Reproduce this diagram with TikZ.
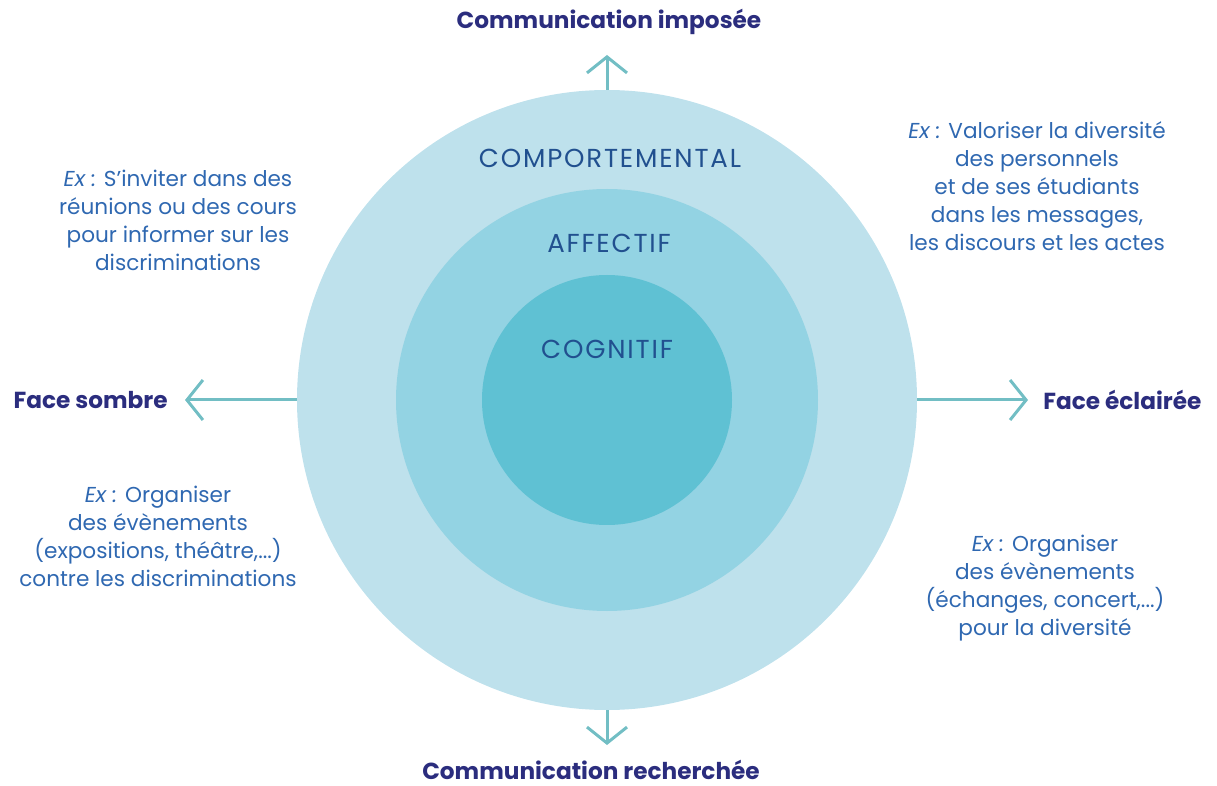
\documentclass[tikz,border=0pt]{standalone}
\usepackage{fontspec}
\setmainfont{Poppins}
\usetikzlibrary{arrows.meta}

\definecolor{navy}{HTML}{2B2D7E}
\definecolor{txtblue}{HTML}{2F68B1}
\definecolor{ringtext}{HTML}{21508F}
\definecolor{axeteal}{HTML}{72BEC4}
\definecolor{ringout}{HTML}{BEE1EC}
\definecolor{ringmid}{HTML}{93D3E3}
\definecolor{ringin}{HTML}{5FC1D3}

\begin{document}
\begin{tikzpicture}[x=0.5pt,y=-0.5pt,
	disc/.style={circle, inner sep=0pt, draw=none},
	title/.style={font=\bfseries\fontsize{11.6}{14}\selectfont, text=navy, inner sep=0pt},
	ex/.style={font=\fontsize{10.8}{14}\selectfont, text=txtblue, align=center, inner sep=0pt},
	level/.style={font=\fontsize{13}{14}\selectfont\addfontfeatures{LetterSpace=7}, text=ringtext, inner sep=0pt},
	axe/.style={line width=1.5pt, draw=axeteal, -{Straight Barb[length=8pt,width=20pt,line width=1.5pt]}}]
	\useasboundingbox (0,0) rectangle (1217,786);
	% les trois cercles
	\node[disc, fill=ringout, minimum size=310pt] (outer) at (607,400) {};
	\node[disc, fill=ringmid, minimum size=211pt] (mid) at (607,400) {};
	\node[disc, fill=ringin, minimum size=125pt] (inner) at (607,400) {};
	\node[level] (comp) at (610,158) {COMPORTEMENTAL};
	\node[level] (affect) at (609,243) {AFFECTIF};
	\node[level] (cogn) at (607,349) {COGNITIF};
	% axes
	\coordinate (tipN) at (607,55);
	\coordinate (tipS) at (607,745);
	\coordinate (tipW) at (185,400);
	\coordinate (tipE) at (1028,400);
	\draw[axe] (outer.north) -- (tipN);
	\draw[axe] (outer.south) -- (tipS);
	\draw[axe] (outer.west) -- (tipW);
	\draw[axe] (outer.east) -- (tipE);
	\node[title] (imposee) at (609,22) {Communication imposée};
	\node[title] (recherchee) at (591,770) {Communication recherchée};
	\node[title, anchor=east] (sombre) at (168,400) {Face sombre};
	\node[title, anchor=west] (eclairee) at (1043,400) {Face éclairée};
	% exemples
	\node[ex] (exNW) at (178,220) {\textit{Ex :} S’inviter dans des\\réunions ou des cours\\pour informer sur les\\discriminations};
	\node[ex] (exNE) at (1037,186) {\textit{Ex :} Valoriser la diversité\\des personnels\\et de ses étudiants\\dans les messages,\\les discours et les actes};
	\node[ex] (exSW) at (158,536) {\textit{Ex :} Organiser\\des évènements\\(expositions, théâtre,...)\\contre les discriminations};
	\node[ex] (exSE) at (1045,588) {\textit{Ex :} Organiser\\des évènements\\(échanges, concert,...)\\pour la diversité};
\end{tikzpicture}
\end{document}
